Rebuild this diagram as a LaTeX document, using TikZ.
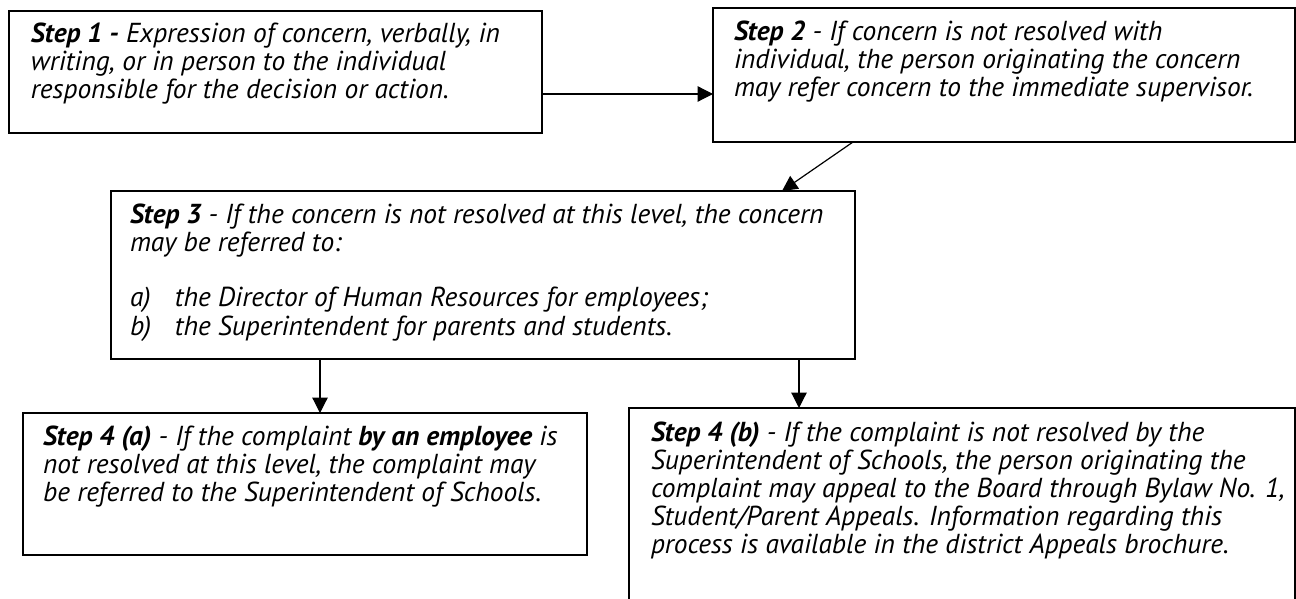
\documentclass[tikz,border=0pt]{standalone}
\usepackage{fontspec}
\setmainfont{PT Sans}
\usetikzlibrary{arrows.meta}
\newlength\reftw
\newlength\fsz
\newcommand\tf{\fontsize{\fsz}{21pt}\selectfont\itshape}
\begin{document}
\settowidth\reftw{\fontsize{10pt}{12pt}\selectfont\itshape\textbf{Step 1 -} Expression of concern, verbally, in}%
\setlength\fsz{\dimexpr 10pt*23052288/\reftw\relax}%
\begin{tikzpicture}[x=0.75pt,y=-0.75pt,
  box/.style={draw=black, line width=1.2pt, rectangle, inner sep=0pt, outer sep=0pt},
  txt/.style={anchor=north west, inner sep=0pt, outer sep=0pt, align=left, font=\tf},
  arr/.style={draw=black, line width=0.9pt, -{Triangle[length=11.5pt,width=11.5pt]}}]
\clip (0,0) rectangle (1296,599);
\fill[white] (0,0) rectangle (1296,599);
% boxes
\node[box, minimum width=399.75pt, minimum height=91.5pt] (b1) at (275.5,72) {};
\node[box, minimum width=436.5pt, minimum height=100.5pt] (b2) at (1004,75) {};
\node[box, minimum width=558pt, minimum height=126pt] (b3) at (483,275) {};
\node[box, minimum width=423pt, minimum height=106.5pt] (b4a) at (305,484) {};
\node[box, minimum width=499.5pt, minimum height=174pt] (b4b) at (962,524) {};
% texts
\node[txt] (t1) at (31,23.4) {\strut\textbf{Step 1 -} Expression of concern, verbally, in\\
writing, or in person to the individual\\
responsible for the decision or action.};
\node[txt] (t2) at (734,21.4) {\strut\textbf{Step 2} - If concern is not resolved with\\
individual, the person originating the concern\\
may refer concern to the immediate supervisor.};
\node[txt] (t3) at (130,203.4) {\strut\textbf{Step 3} - If the concern is not resolved at this level, the concern\\
may be referred to:\\[21pt]
\makebox[33.75pt][l]{a)}the Director of Human Resources for employees;\\
\makebox[33.75pt][l]{b)}the Superintendent for parents and students.};
\node[txt] (t4a) at (43,425.4) {\strut\textbf{Step 4 (a)} - If the complaint \textbf{by an employee} is\\
not resolved at this level, the complaint may\\
be referred to the Superintendent of Schools.};
\node[txt] (t4b) at (651,421.4) {\strut\textbf{Step 4 (b)} - If the complaint is not resolved by the\\
Superintendent of Schools, the person originating the\\
complaint may appeal to the Board through Bylaw No. 1,\\
Student/Parent Appeals. Information regarding this\\
process is available in the district Appeals brochure.};
% connectors
\draw[arr] ([yshift=-16.5pt]b1.east) -- ([yshift=-16.5pt]b1.east -| b2.west);
\draw[arr] ([xshift=-113.25pt]b2.south) -- ([xshift=224.25pt]b3.north);
\draw[arr] ([xshift=-122.25pt]b3.south) -- ([xshift=-122.25pt]b3.south |- b4a.north);
\draw[arr] ([xshift=237pt]b3.south) -- ([xshift=237pt]b3.south |- b4b.north);
\end{tikzpicture}
\end{document}
